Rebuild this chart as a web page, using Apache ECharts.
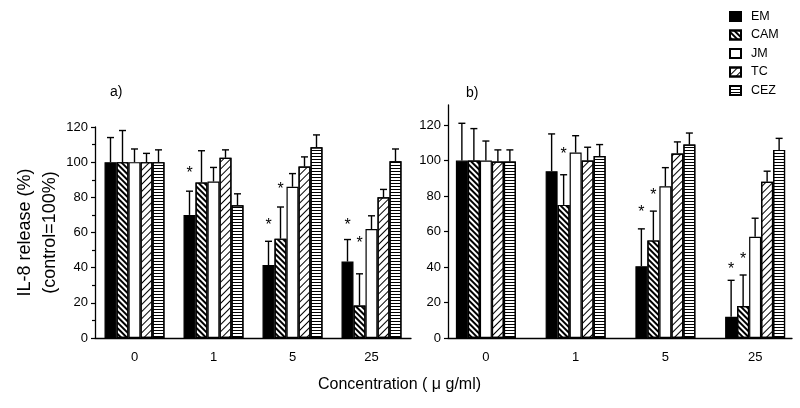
<!DOCTYPE html>
<html><head><meta charset="utf-8">
<script src="https://cdn.jsdelivr.net/npm/echarts@6/dist/echarts.min.js"></script>
<style>html,body{margin:0;padding:0;background:#fff}#c{width:800px;height:408px}</style>
</head><body><div id="c"></div>
<script>
// ---- data ----
const categories = ['0', '1', '5', '25'];
const seriesNames = ['EM', 'CAM', 'JM', 'TC', 'CEZ'];
const yTicks = [0, 20, 40, 60, 80, 100, 120];

// Panel a) means (per concentration) and upper ends of the error bars
const aEM  = [100, 70, 41.5, 43.5];
const aCAM = [100, 88.5, 56.5, 18.5];
const aJM  = [100, 89, 86, 62];
const aTC  = [100, 102.5, 97.5, 80];
const aCEZ = [100, 75.5, 108.5, 100.5];
const aEMErr  = [114, 83.5, 55, 56];
const aCAMErr = [118, 106.5, 74.5, 36.5];
const aJMErr  = [107.5, 97, 93.5, 69.5];
const aTCErr  = [105, 107, 103, 84.5];
const aCEZErr = [107, 82, 115.5, 107.5];
// asterisks: [concentration index, series index, level]
const aStars = [[1, 0, 95.5], [2, 0, 66], [2, 1, 86.5], [3, 0, 66], [3, 1, 56]];

// Panel b)
const bEM  = [100, 94, 40.5, 12];
const bCAM = [100, 75, 55, 18];
const bJM  = [100, 104.5, 85.5, 57];
const bTC  = [99.5, 100, 104, 88];
const bCEZ = [99.5, 102.5, 109, 106];
const bEMErr  = [121, 115, 61.5, 32.5];
const bCAMErr = [118, 92, 71.5, 35.5];
const bJMErr  = [111, 114, 96, 67.5];
const bTCErr  = [106, 107.5, 110.5, 94];
const bCEZErr = [106, 109, 115.5, 112.5];
const bStars = [[1, 1, 105.5], [2, 0, 73], [2, 1, 82.5], [3, 0, 41], [3, 1, 46.5]];

// ---- styling ----
const FONT = 'Liberation Sans, Arial, Helvetica, sans-serif';
const BAR_W = 12;
const CAP = 3.5;
const BW = 1.2;
const styles = [
  { color: '#000', borderColor: '#000', borderWidth: BW },
  { color: '#fff', borderColor: '#000', borderWidth: BW,
    decal: { symbol: 'rect', symbolSize: 1, color: '#000', dashArrayX: [1, 0], dashArrayY: [2, 1.2], rotation: Math.PI / 4 } },
  { color: '#fff', borderColor: '#000', borderWidth: BW },
  { color: '#fff', borderColor: '#000', borderWidth: BW,
    decal: { symbol: 'rect', symbolSize: 1, color: '#000', dashArrayX: [1, 0], dashArrayY: [1, 4], rotation: -Math.PI / 4 } },
  { color: '#fff', borderColor: '#000', borderWidth: BW,
    decal: { symbol: 'rect', symbolSize: 1, color: '#000', dashArrayX: [1, 0], dashArrayY: [1, 2], rotation: 0 } }
];

function bars(xi, yi, means) {
  return seriesNames.map((n, i) => ({
    name: n, type: 'bar', xAxisIndex: xi, yAxisIndex: yi,
    data: means[i], barWidth: BAR_W, barGap: '0%', silent: true,
    itemStyle: styles[i], z: 2
  }));
}
function errs(xi, yi, means, tops) {
  const data = [];
  means.forEach((m, si) => m.forEach((v, ci) => data.push([ci, si, v, tops[si][ci]])));
  return {
    type: 'custom', xAxisIndex: xi, yAxisIndex: yi, silent: true, z: 5,
    encode: { x: 0, y: 3 }, data,
    renderItem(params, api) {
      const base = api.coord([api.value(0), api.value(2)]);
      const top = api.coord([api.value(0), api.value(3)]);
      const x = base[0] + (api.value(1) - 2) * BAR_W;
      const st = { stroke: '#000', lineWidth: 1.4 };
      return { type: 'group', children: [
        { type: 'line', shape: { x1: x, y1: base[1], x2: x, y2: top[1] }, style: st },
        { type: 'line', shape: { x1: x - CAP, y1: top[1], x2: x + CAP, y2: top[1] }, style: st }
      ] };
    }
  };
}
function stars(xi, yi, list) {
  return {
    type: 'custom', xAxisIndex: xi, yAxisIndex: yi, silent: true, z: 6,
    encode: { x: 0, y: 2 }, data: list,
    renderItem(params, api) {
      const p = api.coord([api.value(0), api.value(2)]);
      const x = p[0] + (api.value(1) - 2) * BAR_W;
      return { type: 'text', style: { text: '*', x: x, y: p[1] + 4, align: 'center', verticalAlign: 'middle',
        font: '16px ' + FONT, fill: '#000' } };
    }
  };
}

const axisLine = { show: true, lineStyle: { color: '#000', width: 1.3 } };
const chart = echarts.init(document.getElementById('c'), null, { renderer: 'canvas' });
chart.setOption({
  backgroundColor: '#fff',
  animation: false,
  textStyle: { fontFamily: FONT, color: '#000' },
  title: { text: 'Concentration ( μ g/ml)', left: 318, top: 377, padding: 0,
    textStyle: { fontFamily: FONT, fontSize: 16, fontWeight: 'normal', color: '#000' } },
  legend: {
    orient: 'vertical', left: 729, top: 10, padding: 0, itemWidth: 11, itemHeight: 9, itemGap: 5.5,
    icon: 'rect', selectedMode: false, data: seriesNames,
    textStyle: { fontFamily: FONT, fontSize: 12.5, color: '#000', lineHeight: 12, padding: [0, 0, 0, 5] }
  },
  graphic: [
    { type: 'text', left: 110, top: 85, style: { text: 'a)', font: '14px ' + FONT, fill: '#000' } },
    { type: 'text', left: 466, top: 86, style: { text: 'b)', font: '14px ' + FONT, fill: '#000' } }
  ],
  grid: [
    { left: 95, top: 127, width: 316, height: 211 },
    { left: 448, top: 105, width: 344, height: 233 },
    { left: 441, top: 105, width: 361, height: 233 }
  ],
  xAxis: [
    { type: 'category', gridIndex: 0, data: categories, axisLine, axisTick: { show: false },
      axisLabel: { fontSize: 13, color: '#000', margin: 13, fontFamily: FONT } },
    { type: 'category', gridIndex: 1, data: categories, axisLine, axisTick: { show: false },
      axisLabel: { show: false } },
    { type: 'category', gridIndex: 2, data: categories, axisLine: { show: false }, axisTick: { show: false },
      axisLabel: { fontSize: 13, color: '#000', margin: 13, fontFamily: FONT } }
  ],
  yAxis: [
    { type: 'value', gridIndex: 0, min: 0, max: 120, interval: 20, splitLine: { show: false },
      axisLine, axisTick: { show: true, length: 4, lineStyle: { color: '#000', width: 1.2 } },
      minorTick: { show: true, splitNumber: 2, length: 3, lineStyle: { color: '#000', width: 1.2 } },
      axisLabel: { fontSize: 13, color: '#000', margin: 7, fontFamily: FONT },
      name: 'IL-8 release (%)\n(control=100%)', nameLocation: 'middle', nameRotate: 90, nameGap: 30,
      nameTextStyle: { fontSize: 18, lineHeight: 25, color: '#000', fontFamily: FONT } },
    { type: 'value', gridIndex: 1, min: 0, max: 131.3, splitLine: { show: false },
      axisLine, axisTick: { show: true, length: 4, customValues: yTicks, lineStyle: { color: '#000', width: 1.2 } },
      axisLabel: { fontSize: 13, color: '#000', margin: 7, fontFamily: FONT, customValues: yTicks } },
    { type: 'value', gridIndex: 2, min: 0, max: 131.3, show: false }
  ],
  series: [
    ...bars(0, 0, [aEM, aCAM, aJM, aTC, aCEZ]),
    errs(0, 0, [aEM, aCAM, aJM, aTC, aCEZ], [aEMErr, aCAMErr, aJMErr, aTCErr, aCEZErr]),
    stars(0, 0, aStars),
    ...bars(2, 2, [bEM, bCAM, bJM, bTC, bCEZ]),
    errs(2, 2, [bEM, bCAM, bJM, bTC, bCEZ], [bEMErr, bCAMErr, bJMErr, bTCErr, bCEZErr]),
    stars(2, 2, bStars)
  ]
});
</script></body></html>
